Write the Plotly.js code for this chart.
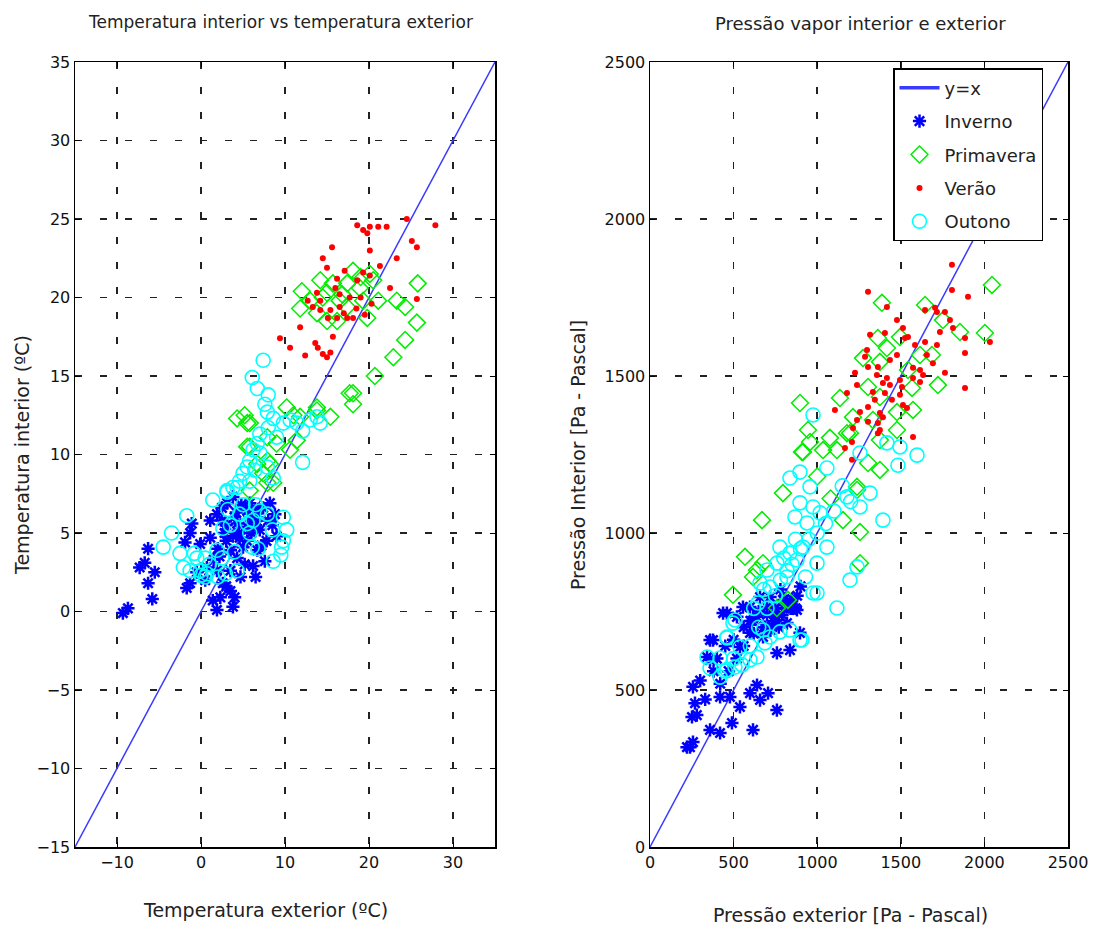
<!DOCTYPE html>
<html><head><meta charset="utf-8">
<script src="https://cdn.plot.ly/plotly-3.0.1.min.js"></script>
<style>html,body{margin:0;padding:0;background:#fff}#g{width:1097px;height:932px}</style>
</head><body><div id="g"></div>
<script>
// ---- Left: temperatures (°C) ----
const tInvExt = [-9.3,-8.7,-6.3,-6.7,-7.3,-5.5,-6.3,-5.8,-1.7,-1.3,-1.1,-1.3,-1.9,1.1,1.4,1.9,2.3,3.5,3.8,4.0,2.6,2.5,3.1,4.3,5.8,6.7,7.0,7.4,8.2,6.7,6.2,3.5,4.3,5.0,0.7,1.9,3.5,4.6,5.5,1.9,3.8,5.5,1.1,-0.1,7.6,4.0,2.8,6.0,3.0,8.5,5.2,2.2,4.8,7.8,3.0,4.5,5.5,6.5,2.0,3.8,6.8,8.0,7.2,4.2,5.8,2.5,1.5,0.5,-0.5,8.8,9.0,4.7,6.5,3.0];
const tInvInt = [-0.1,0.2,4.0,3.1,2.8,2.5,1.8,0.8,1.5,1.8,5.6,5.0,4.4,5.8,0.7,0.1,0.9,1.3,0.3,0.9,1.8,6.6,6.9,5.6,6.9,6.0,5.2,6.6,6.9,3.9,2.9,3.9,3.4,4.1,2.8,2.6,2.6,4.7,5.4,6.2,7.3,6.4,4.7,4.3,3.2,6.0,5.0,5.0,4.5,5.5,3.0,3.5,6.8,4.5,5.5,5.0,4.5,5.5,4.0,4.8,6.5,5.8,4.2,6.3,6.0,5.8,3.3,2.0,2.5,6.2,4.8,2.2,2.2,1.6];
const tPriExt = [12.0,11.8,14.2,13.0,13.8,15.0,15.7,16.5,17.4,18.1,18.9,19.3,20.1,20.5,19.8,15.0,16.2,17.4,21.1,23.3,24.3,25.8,25.7,24.3,22.9,20.7,18.1,18.1,15.4,13.8,11.8,10.2,11.4,10.6,4.3,5.2,5.5,5.5,7.9,8.2,7.9,5.8,11.0,9.0,5.8,6.7,7.4,7.9,5.8,8.6,13.8,17.7,14.5,16.8,19.0];
const tPriInt = [20.4,19.3,21.1,19.8,19.0,20.3,20.9,19.8,19.4,21.7,20.6,19.8,21.5,21.1,18.7,18.5,18.5,20.9,19.8,19.8,19.4,20.9,18.4,17.3,16.2,15.0,13.9,13.2,12.4,13.0,12.4,13.0,10.9,10.3,12.3,12.5,12.0,10.5,11.1,9.4,9.6,12.0,12.5,10.7,10.5,9.4,8.8,8.2,7.7,8.2,12.8,13.9,20.0,20.2,21.3];
const tVerExt = [18.6,19.3,19.8,20.1,21.1,22.1,24.5,27.9,25.1,25.7,20.1,23.3,15.6,14.5,15.0,17.1,19.3,20.1,21.3,16.2,18.6,13.8,16.5,17.7,22.5,25.7,12.7,13.3,14.2,15.4,16.5,15.1,16.2,17.4,18.1,19.5,11.8,9.4,10.6,12.4,13.6,13.9,14.5,15.4,15.7,15.0,14.2,16.0,17.0,18.5,19.0,20.3];
const tVerInt = [24.6,24.3,24.1,24.5,24.5,24.5,25.0,24.6,23.6,23.2,23.0,22.5,23.2,22.5,21.9,21.7,21.6,21.4,22.0,21.2,21.1,20.3,20.2,20.0,20.6,19.9,19.8,19.4,19.2,19.2,19.4,18.7,18.7,18.7,18.7,18.9,18.1,17.4,16.8,16.3,17.1,16.8,16.4,16.5,17.5,16.2,19.8,20.6,19.0,19.3,20.0,19.6];
const tOutExt = [-4.5,-3.5,-1.7,-2.5,-2.1,-1.3,-0.5,-0.1,0.7,0.5,1.9,2.5,2.9,4.3,1.4,3.1,4.3,2.6,3.5,4.6,5.5,5.8,6.2,7.0,7.9,6.1,6.8,9.8,10.2,9.8,9.6,8.6,12.1,0.0,7.4,6.1,6.7,8.0,7.6,7.9,8.6,8.0,7.0,6.7,6.2,5.8,5.5,5.0,4.6,3.8,3.1,9.8,10.6,11.4,12.1,13.0,13.8,14.2,9.0,7.0,7.9,8.6,6.4,5.8,0.5,1.0,-0.8,2.0,3.2,5.0,6.5,8.5,9.5,4.0];
const tOutInt = [4.1,5.0,6.1,3.7,2.8,2.6,3.4,2.6,2.4,3.4,3.9,3.4,2.4,2.6,7.1,7.7,7.9,5.3,5.5,6.2,5.6,5.0,5.8,6.4,6.2,4.1,4.0,6.0,5.2,4.5,4.1,3.2,9.5,2.3,16.0,14.9,14.2,13.8,13.2,12.7,12.3,11.7,11.3,10.7,10.3,9.6,9.2,8.8,8.3,7.9,7.6,12.0,12.2,12.0,11.5,12.2,12.4,12.0,11.1,10.1,9.2,8.5,9.0,8.3,2.2,3.0,3.7,2.2,6.5,6.8,6.8,5.2,3.6,3.8];

// ---- Right: vapour pressure (Pa) ----
const pInvExt = [257,239,251,269,257,359,419,490,538,419,478,598,616,658,706,759,640,359,377,460,520,598,640,700,759,819,879,897,837,759,676,598,538,556,795,718,658,221,359,437,341,780,820,850,730,690,610,600,650,700,750,800,850,880,620,680,740,790,840,560,500,450,400,380,300,330,280,420,470,520,560,900,870,720,770];
const pInvInt = [334,318,414,458,510,373,363,395,446,478,478,490,373,468,490,436,516,596,659,745,733,764,733,764,733,713,755,682,627,618,669,682,637,764,787,796,796,318,659,745,605,820,780,760,700,700,720,720,750,740,760,770,790,800,680,700,720,740,760,700,660,640,600,560,530,470,420,520,560,600,640,830,760,690,700];
const pPriExt = [2045,1387,1645,1752,1854,2003,1363,1417,1274,1375,1495,1615,1686,1543,1304,1375,1567,1722,1136,897,1477,1573,1214,1333,945,1076,957,1196,1477,1035,909,1118,1375,1304,1375,1238,915,1178,795,670,568,616,496,759,825,1256,1256,1238,1154,640,676,1000,1080];
const pPriInt = [1790,1733,1726,1678,1640,1637,1621,1589,1557,1545,1624,1567,1567,1519,1465,1433,1462,1471,1430,1414,1385,1392,1369,1360,1328,1303,1290,1318,1328,1264,1258,1264,1296,1223,1201,1147,1258,1318,1127,1041,924,860,803,761,787,1003,904,1137,1041,882,904,1180,1110];
const pVerExt = [1806,1806,1304,1902,1417,1645,1705,1764,1794,1812,1734,1716,1477,1513,1405,1316,1525,1543,1585,1645,1716,1884,2033,1884,1298,1286,1477,1656,1435,1304,1363,1692,1573,1615,1633,1226,1357,1417,1393,1435,1495,1507,1573,1615,1764,1238,1884,1178,1333,1405,1495,1345,1447,1513,1537,1304,1256,1106,1375,1393,1238,1304,1363,1375,1214,1363,1573,1208,1166,1208];
const pVerInt = [1854,1774,1768,1752,1720,1710,1717,1704,1678,1653,1640,1704,1678,1653,1637,1631,1621,1624,1599,1608,1599,1621,1608,1573,1583,1561,1567,1567,1551,1529,1529,1541,1526,1519,1503,1510,1503,1494,1478,1471,1487,1465,1494,1481,1510,1471,1462,1446,1449,1446,1440,1424,1424,1408,1398,1401,1385,1392,1382,1369,1360,1354,1350,1328,1334,1318,1306,1290,1271,1233];
const pOutExt = [508,460,538,419,341,419,508,598,640,688,718,777,837,909,999,646,359,460,975,897,837,1058,957,897,975,867,939,1017,1178,1256,1316,1393,1495,1597,1483,1417,1256,777,837,915,1058,999,879,759,700,658,718,819,975,1196,1238,1118,496,460,897,676,600,650,700,750,780,820,850,900,950,1000,1050,1100,550,500,450,620,680,800,870,930,1150,1200];
const pOutInt = [723,666,637,602,605,541,573,596,605,650,669,685,691,659,809,777,570,564,1376,1194,1175,1207,1147,1096,1083,1051,1032,1064,1115,1083,1127,1041,1274,1248,1216,1287,1255,955,936,955,955,904,914,904,882,841,828,860,809,850,892,761,713,669,659,691,640,700,760,800,850,880,900,950,980,1000,1030,1070,580,600,560,760,820,920,980,860,1150,1100];

// y = x reference line end points (axis ranges)
const lineT = [-15, 35];
const lineP = [0, 2500];

const BLUE = '#0000ff', GREEN = '#00ee00', RED = '#ff0000', CYAN = '#00ffff', LINE = '#3a3aff';
const FONT = 'DejaVu Sans, Verdana, sans-serif';

function series(x, y, xa, ya, name, marker, show) {
  return {type:'scatter', mode:'markers', x:x, y:y, xaxis:xa, yaxis:ya, name:name, legendgroup:name,
          marker:marker, showlegend:show, hoverinfo:'skip'};
}
const mInv = {symbol:'asterisk-open', size:11, color:BLUE, line:{color:BLUE, width:2.5}};
const mPri = {symbol:'diamond-open', size:13, color:GREEN, line:{color:GREEN, width:1.5}};
const mVer = {symbol:'circle', size:6, color:RED, line:{width:0}};
const mOut = {symbol:'circle-open', size:14, color:CYAN, line:{color:CYAN, width:1.6}};

const data = [
  {type:'scatter', mode:'lines', x:lineT, y:lineT, xaxis:'x', yaxis:'y', line:{color:LINE, width:1.5}, showlegend:false, hoverinfo:'skip'},
  series(tInvExt, tInvInt, 'x', 'y', 'Inverno', mInv, false),
  series(tPriExt, tPriInt, 'x', 'y', 'Primavera', mPri, false),
  series(tVerExt, tVerInt, 'x', 'y', 'Verão', mVer, false),
  series(tOutExt, tOutInt, 'x', 'y', 'Outono', mOut, false),
  {type:'scatter', mode:'lines', x:lineP, y:lineP, xaxis:'x2', yaxis:'y2', line:{color:LINE, width:1.5}, showlegend:false, hoverinfo:'skip'},
  // legend-only entry for the y=x line (drawn thicker in the legend, as in the reference)
  {type:'scatter', mode:'lines', x:[null], y:[null], xaxis:'x2', yaxis:'y2', name:'y=x', legendgroup:'yx', line:{color:LINE, width:3.5}, showlegend:true, hoverinfo:'skip'},
  series(pInvExt, pInvInt, 'x2', 'y2', 'Inverno', mInv, true),
  series(pPriExt, pPriInt, 'x2', 'y2', 'Primavera', mPri, true),
  series(pVerExt, pVerInt, 'x2', 'y2', 'Verão', mVer, true),
  series(pOutExt, pOutInt, 'x2', 'y2', 'Outono', mOut, true)
];

const tickFont = {family:FONT, size:16, color:'#111'};
function ax(extra) {
  return Object.assign({
    showline:true, linecolor:'#000', linewidth:1.5, mirror:'ticks',
    ticks:'inside', ticklen:5, tickcolor:'#000', tickwidth:1,
    showgrid:true, gridcolor:'#222', gridwidth:1.5, griddash:'7px,18px',
    zeroline:false, tickfont:tickFont, fixedrange:true
  }, extra);
}
const W = 1097, H = 932;
const yd = [1 - 847/H, 1 - 62/H];
function ann(text, px, py, size, extra) {
  return Object.assign({text:text, xref:'paper', yref:'paper', x:px/W, y:1-py/H, xanchor:'center', yanchor:'middle',
    showarrow:false, font:{family:FONT, size:size, color:'#222'}}, extra || {});
}
const layout = {
  width:W, height:H, margin:{l:0, r:0, t:0, b:0},
  paper_bgcolor:'#fff', plot_bgcolor:'#fff',
  xaxis: ax({domain:[75/W, 495/W], range:[-15,35], tickvals:[-10,0,10,20,30], anchor:'y'}),
  yaxis: ax({domain:yd, range:[-15,35], dtick:5, tick0:-15, anchor:'x'}),
  xaxis2: ax({domain:[650/W, 1068/W], range:[0,2500], dtick:500, anchor:'y2'}),
  yaxis2: ax({domain:yd, range:[0,2500], dtick:500, anchor:'x2'}),
  showlegend:true,
  legend:{x:893/W, y:1 - 68/H, xanchor:'left', yanchor:'top', bgcolor:'#fff', bordercolor:'#000', borderwidth:1.5,
          font:{family:FONT, size:18, color:'#222'}, traceorder:'grouped', tracegroupgap:7, itemwidth:40},
  annotations:[
    ann('Temperatura interior vs temperatura exterior', 280, 22, 17),
    ann('Pressão vapor interior e exterior', 860, 23, 18),
    ann('Temperatura exterior (ºC)', 265, 910, 19),
    ann('Temperatura interior (ºC)', 22, 455, 19, {textangle:-90}),
    ann('Pressão exterior [Pa - Pascal)', 850, 915, 19),
    ann('Pressão Interior [Pa - Pascal]', 578, 455, 19, {textangle:-90})
  ]
};
Plotly.newPlot('g', data, layout, {displayModeBar:false, staticPlot:true});
</script></body></html>
